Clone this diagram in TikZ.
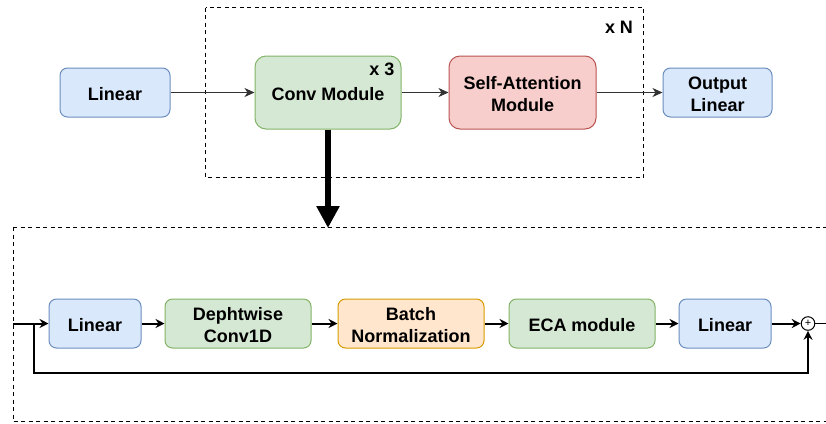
\documentclass[tikz,border=0pt]{standalone}
\usepackage{fontspec}
\setmainfont{Liberation Sans}
\usetikzlibrary{arrows.meta}

\definecolor{bluefill}{HTML}{DAE8FC}
\definecolor{bluedraw}{HTML}{6C8EBF}
\definecolor{greenfill}{HTML}{D5E8D4}
\definecolor{greendraw}{HTML}{82B366}
\definecolor{redfill}{HTML}{F8CECC}
\definecolor{reddraw}{HTML}{B85450}
\definecolor{orangefill}{HTML}{FFE6CC}
\definecolor{orangedraw}{HTML}{D79B00}
\definecolor{edgegray}{HTML}{333333}

% struts that give the text lines a fixed vertical extent
\newcommand{\blockstrut}{\rule[-2.7bp]{0pt}{20.7bp}}
\newcommand{\tallstrut}{\rule{0pt}{19bp}}
\newcommand{\deepstrut}{\rule[-2.7bp]{0pt}{2.7bp}}

\tikzset{
  blockbase/.style={rectangle, line width=1bp, inner sep=0pt, align=center,
    font=\fontsize{18bp}{22bp}\selectfont\bfseries,
    execute at begin node=\blockstrut},
  bluebox/.style={blockbase, fill=bluefill, draw=bluedraw},
  greenbox/.style={blockbase, fill=greenfill, draw=greendraw},
  redbox/.style={blockbase, fill=redfill, draw=reddraw},
  orangebox/.style={blockbase, fill=orangefill, draw=orangedraw},
  smallbox/.style={rounded corners=7.5bp, minimum height=49bp},
  bigbox/.style={rounded corners=11bp, minimum height=73bp},
  groupframe/.style={draw=black, line width=1bp, dash pattern=on 4bp off 3.5bp},
  thinlink/.style={draw=edgegray, line width=1bp,
    -{Stealth[length=10bp, width=9bp, inset=3bp]}},
  boldlink/.style={draw=black, line width=2bp,
    -{Stealth[length=9bp, width=9bp, inset=3bp]}},
  repeatlabel/.style={font=\fontsize{18bp}{22bp}\selectfont\bfseries, inner sep=0pt},
}

\begin{document}
\begin{tikzpicture}[x=1bp, y=-1bp]
  \useasboundingbox (0,0) rectangle (826,423);

  % frames around the repeated encoder block and the expanded conv module
  \draw[groupframe] (205.5,7.5) rectangle (643.5,177.5);
  \begin{scope}
    \clip (0,0) rectangle (826,423);
    \draw[groupframe] (13,227) -- (840,227) (13,227) -- (13,421.5) -- (840,421.5);
  \end{scope}

  % top row
  \node[bluebox, smallbox, minimum width=110bp] (lin) at (115,92.5) {Linear};
  \node[greenbox, bigbox, minimum width=146bp] (conv) at (328,92.5) {Conv Module};
  \node[redbox, bigbox, minimum width=147bp] (attn) at (522.5,92.5)
    {\tallstrut Self-Attention\\Module\deepstrut};
  \node[bluebox, smallbox, minimum width=109bp] (outlin) at (717.5,92.5)
    {\tallstrut Output\\Linear\deepstrut};

  \node[repeatlabel] (rep3) at (382,69) {x 3};
  \node[repeatlabel] (repN) at (619,27) {x N};

  \draw[thinlink] (lin) -- (conv);
  \draw[thinlink] (conv) -- (attn);
  \draw[thinlink] (attn) -- (outlin);

  % expansion arrow into the detail frame
  \coordinate (detailtop) at (328,228);
  \draw[line width=6.5bp, -{Triangle[length=22bp, width=22bp]}] (conv.south) -- (detailtop);

  % bottom row: inside the conv module
  \node[bluebox, smallbox, minimum width=92bp] (blin) at (95,323.5) {Linear};
  \node[greenbox, smallbox, minimum width=146bp] (dconv) at (238,323.5)
    {\tallstrut Dephtwise\\Conv1D\deepstrut};
  \node[orangebox, smallbox, minimum width=146bp] (bnorm) at (411,323.5)
    {\tallstrut Batch\\Normalization\deepstrut};
  \node[greenbox, smallbox, minimum width=146bp] (eca) at (582,323.5) {ECA module};
  \node[bluebox, smallbox, minimum width=92bp] (blin2) at (725,323.5) {Linear};
  \node[circle, draw=black, line width=1bp, fill=white, minimum size=13.6bp, inner sep=0pt,
        font=\fontsize{11bp}{11bp}\selectfont] (sum) at (808,323.5) {+};

  \coordinate (inp) at (13,323.5);
  \coordinate (branch) at (34,323.5);
  \coordinate (outp) at (826,323.5);

  \draw[boldlink] (inp) -- (blin);
  \draw[boldlink] (blin) -- (dconv);
  \draw[boldlink] (dconv) -- (bnorm);
  \draw[boldlink] (bnorm) -- (eca);
  \draw[boldlink] (eca) -- (blin2);
  \draw[boldlink] (blin2) -- (sum);
  \draw[line width=1.3bp, -{Stealth[length=9bp, width=9bp, inset=3bp]}]
    (branch) -- (34,373) -| (sum.south);
  \draw[line width=1.3bp] (sum) -- (outp);
\end{tikzpicture}
\end{document}
